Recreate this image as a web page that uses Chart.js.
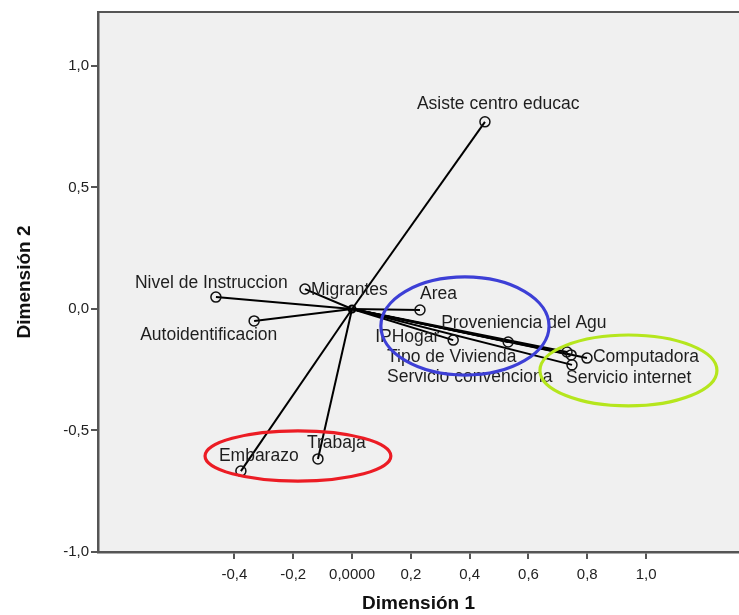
<!DOCTYPE html>
<html>
<head>
<meta charset="utf-8">
<script src="https://cdn.jsdelivr.net/npm/chart.js@4.4.1/dist/chart.umd.min.js"></script>
<style>
  html, body { margin: 0; padding: 0; background: #ffffff; overflow: hidden; }
  #wrap { width: 739px; height: 615px; }
</style>
</head>
<body>
<div id="wrap"><canvas id="c" width="739" height="615"></canvas></div>
<script>
// ---- data ----
const variableNames = [
  'Asiste centro educac', 'Nivel de Instruccion', 'Migrantes', 'Autoidentificacion',
  'Area', 'IPHogar', 'Proveniencia del Agu', 'Tipo de Vivienda',
  'Servicio convenciona', 'Computadora', 'Servicio internet', 'Embarazo', 'Trabaja'
];
const dimension1 = [0.452, -0.463, -0.160, -0.333, 0.231, 0.344, 0.531, 0.731, 0.745, 0.799, 0.748, -0.378, -0.116];
const dimension2 = [0.770, 0.049, 0.082, -0.049, -0.004, -0.128, -0.136, -0.177, -0.189, -0.202, -0.230, -0.667, -0.617];

const xTickValues = [-0.4, -0.2, 0, 0.2, 0.4, 0.6, 0.8, 1.0];
const xTickLabels = ['-0,4', '-0,2', '0,0000', '0,2', '0,4', '0,6', '0,8', '1,0'];
const yTickValues = [-1.0, -0.5, 0, 0.5, 1.0];
const yTickLabels = ['-1,0', '-0,5', '0,0', '0,5', '1,0'];

// ---- styling / placement (not data) ----
const labelOffsets = [
  [-68, -18], [-81, -14], [6, 1], [-114, 14], [0, -16], [-78, -3], [-67, -19],
  [-180, 5], [-184, 22], [6, -1], [-6, 13], [-22, -15], [-11, -16]
];
// hand-drawn highlight ellipses (center / radii in data units)
const ellipseCX = [0.384, 0.940, -0.184];
const ellipseCY = [-0.070, -0.253, -0.605];
const ellipseRX = [0.286, 0.301, 0.316];
const ellipseRY = [0.202, 0.146, 0.103];
const ellipseColors = ['#3d3fd6', '#b5e61d', '#ec1c24'];

const FONT = '"Liberation Sans", Arial, sans-serif';
Chart.defaults.font.family = FONT;

const plotBg = {
  id: 'plotBg',
  beforeDraw(chart) {
    const {ctx, chartArea: a} = chart;
    ctx.save();
    ctx.fillStyle = '#f0f0f0';
    ctx.fillRect(a.left, a.top, a.right - a.left, a.bottom - a.top);
    ctx.restore();
  },
  afterDraw(chart) {
    const {ctx, chartArea: a} = chart;
    ctx.save();
    ctx.strokeStyle = '#555555';
    ctx.lineWidth = 2;
    ctx.beginPath();
    ctx.moveTo(a.left - 1, a.top);
    ctx.lineTo(a.right, a.top);
    ctx.stroke();
    ctx.restore();
  }
};

const pointLabels = {
  id: 'pointLabels',
  afterDatasetsDraw(chart) {
    const {ctx, scales: {x, y}} = chart;
    ctx.save();
    ctx.font = '17.5px ' + FONT;
    ctx.fillStyle = '#1e1e1e';
    ctx.textAlign = 'left';
    ctx.textBaseline = 'middle';
    variableNames.forEach((name, i) => {
      const px = x.getPixelForValue(dimension1[i]);
      const py = y.getPixelForValue(dimension2[i]);
      ctx.fillText(name, px + labelOffsets[i][0], py + labelOffsets[i][1]);
    });
    // highlight ellipses
    ellipseCX.forEach((cx, i) => {
      const px = x.getPixelForValue(cx);
      const py = y.getPixelForValue(ellipseCY[i]);
      const rx = Math.abs(x.getPixelForValue(cx + ellipseRX[i]) - px);
      const ry = Math.abs(y.getPixelForValue(ellipseCY[i] + ellipseRY[i]) - py);
      ctx.beginPath();
      ctx.ellipse(px, py, rx, ry, 0, 0, Math.PI * 2);
      ctx.strokeStyle = ellipseColors[i];
      ctx.lineWidth = 3.2;
      ctx.stroke();
    });
    ctx.restore();
  }
};

const datasets = variableNames.map((name, i) => ({
  label: name,
  data: [{x: 0, y: 0}, {x: dimension1[i], y: dimension2[i]}],
  showLine: true,
  borderColor: '#000000',
  borderWidth: 2,
  pointRadius: [0, 5],
  pointHoverRadius: [0, 5],
  pointBorderColor: '#111111',
  pointBorderWidth: 1.5,
  pointBackgroundColor: 'rgba(0,0,0,0)'
}));
datasets.push({
  label: 'origen',
  data: [{x: 0, y: 0}],
  pointRadius: 3.5,
  pointBorderColor: '#000000',
  pointBorderWidth: 2,
  pointBackgroundColor: 'rgba(0,0,0,0)'
});

new Chart(document.getElementById('c'), {
  type: 'scatter',
  data: {datasets},
  plugins: [plotBg, pointLabels],
  options: {
    responsive: false,
    devicePixelRatio: 1,
    animation: false,
    layout: {autoPadding: false, padding: {top: 12, right: 0, bottom: 0, left: 0}},
    plugins: {legend: {display: false}, tooltip: {enabled: false}},
    events: [],
    scales: {
      x: {
        type: 'linear',
        min: -0.864,
        max: 1.316,
        afterBuildTicks: (s) => { s.ticks = xTickValues.map(v => ({value: v})); },
        afterFit: (s) => { s.height = 63; s.paddingLeft = 0; s.paddingRight = 0; },
        ticks: {
          callback: (v, i) => xTickLabels[i],
          color: '#222222',
          font: {size: 15},
          padding: 7,
          maxRotation: 0,
          autoSkip: false
        },
        grid: {drawOnChartArea: false, drawTicks: true, tickLength: 7, color: '#555555', lineWidth: 2},
        border: {display: true, color: '#555555', width: 2.5},
        title: {display: true, text: 'Dimensión 1', color: '#111111', font: {size: 19, weight: 'bold'}, padding: {top: 0, bottom: 0}}
      },
      y: {
        type: 'linear',
        min: -1.0,
        max: 1.222,
        afterBuildTicks: (s) => { s.ticks = yTickValues.map(v => ({value: v})); },
        afterFit: (s) => { s.width = 98; s.paddingTop = 0; s.paddingBottom = 0; },
        ticks: {
          callback: (v, i) => yTickLabels[i],
          color: '#222222',
          font: {size: 15},
          padding: 2,
          autoSkip: false
        },
        grid: {drawOnChartArea: false, drawTicks: true, tickLength: 7, color: '#555555', lineWidth: 2},
        border: {display: true, color: '#555555', width: 2.5},
        title: {display: true, text: 'Dimensión 2', color: '#111111', font: {size: 19, weight: 'bold'}, padding: {top: 13, bottom: 0}}
      }
    }
  }
});
</script>
</body>
</html>
